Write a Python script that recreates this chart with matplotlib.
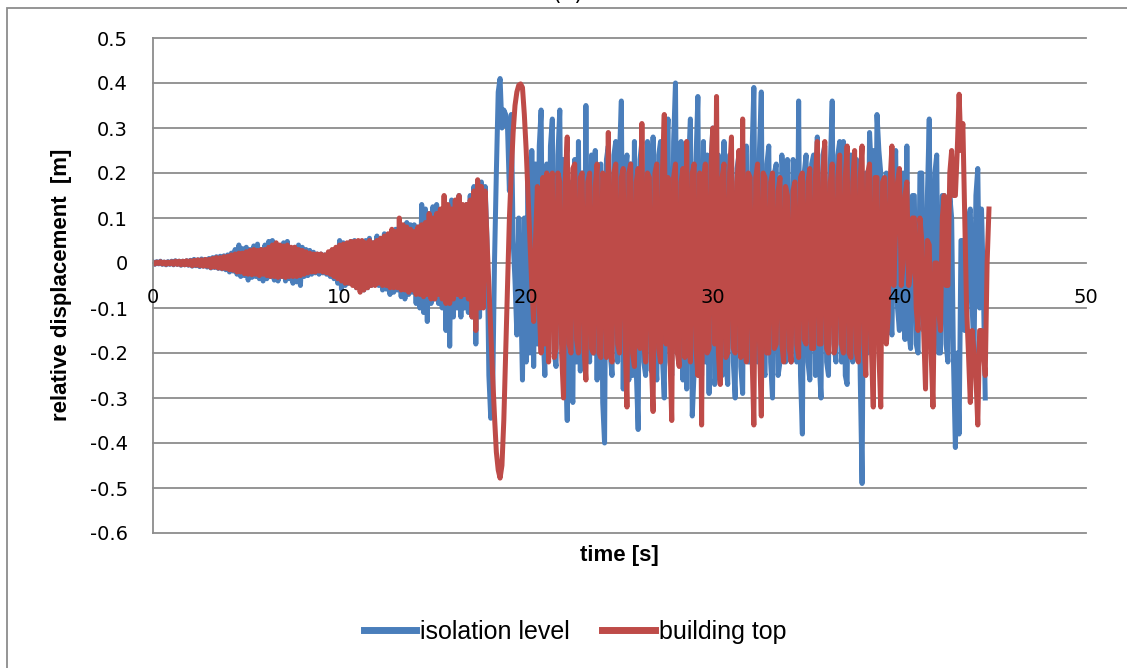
import numpy as np
import matplotlib.pyplot as plt
from matplotlib.patches import Rectangle
from matplotlib.lines import Line2D

# sampling step of the response histories [s]
dt = 0.1

# relative displacement at the isolation level [m], one row per second
isolation_level = [
    .002, -.003, .003, -.002, .004, -.003, .002, -.004, .003, -.003,
    .004, -.004, .005, -.003, .004, -.005, .004, -.004, .005, -.005,
    .006, -.007, .008, -.006, .007, -.008, .009, -.007, .008, -.009,
    .010, -.011, .012, -.010, .014, -.012, .015, -.013, .016, -.015,
    .018, -.020, .022, -.018, .030, -.025, .040, -.030, .032, -.028,
    .035, -.038, .030, -.032, .038, -.030, .042, -.035, .030, -.040,
    .040, -.035, .048, -.030, .050, -.038, .042, -.040, .038, -.030,
    .045, -.040, .048, -.035, .030, -.045, .035, -.042, .040, -.050,
    .035, -.030, .030, -.028, .028, -.025, .024, -.022, .020, -.025,
    .020, -.022, .018, -.025, .022, -.030, .025, -.035, .030, -.045,
    .050, -.058, .045, -.050, .040, -.045, .048, -.040, .050, -.055,
    .045, -.050, .040, -.060, .050, -.055, .055, -.050, .045, -.048,
    .060, -.050, .055, -.060, .065, -.058, .060, -.070, .070, -.065,
    .075, -.060, .080, -.075, .070, -.080, .090, -.070, .085, -.065,
    .085, -.090, .080, -.100, .130, -.110, .120, -.130, .110, -.090,
    .125, -.080, .130, -.090, .110, -.100, .120, -.150, .100, -.185,
    .140, -.120, .130, -.100, .150, -.120, .110, -.100, .130, -.110,
    .150, -.120, .170, -.180, .160, -.120, .180, -.060, .170, .050,
    -.250, -.345, -.300, .000, .200, .380, .410, .300, .340, .330,
    .300, .160, .330, .050, -.040, -.160, .100, -.050, -.260, .100,
    -.220, .180, -.200, .250, -.230, .220, -.180, .260, .340, -.150,
    -.250, .220, -.150, .260, .320, -.200, -.230, .240, .340, -.180,
    .230, -.200, -.350, .180, -.260, -.310, .230, -.220, .270, -.240,
    .200, -.230, .350, -.150, -.220, .240, -.200, .250, -.260, .210,
    .220, -.310, -.400, .230, .260, -.200, -.250, .240, .270, -.220,
    .240, .360, -.280, .200, .240, -.260, .220, -.250, .270, -.240,
    -.370, .230, .270, -.220, -.250, .270, .210, -.240, .280, -.200,
    -.260, .240, .270, -.210, -.300, .240, .320, -.220, -.250, .270,
    .400, -.200, -.180, .270, -.260, .240, -.280, .220, .320, -.340,
    -.240, .230, .370, -.220, -.250, .270, -.220, .240, -.290, .220,
    .300, -.270, -.240, .240, .210, -.250, .270, -.220, -.270, .240,
    .240, -.220, -.300, .210, .240, -.230, -.290, .230, .260, -.220,
    -.220, .240, .390, -.180, -.220, .250, .380, -.230, -.250, .220,
    .260, -.220, -.300, .200, .220, -.250, -.220, .240, .180, -.220,
    .230, -.180, -.220, .230, .200, -.220, .360, -.250, -.380, .200,
    .240, -.220, -.260, .220, .240, -.250, .280, -.220, -.300, .240,
    .260, -.220, -.250, .220, .360, -.180, -.220, .240, .270, -.220,
    .270, -.250, -.270, .220, .240, -.220, -.200, .230, .220, -.250,
    -.490, .150, .200, -.200, .290, .200, .250, -.150, .330, .250,
    .200, -.150, -.140, .200, .100, -.120, -.160, .150, .250, -.100,
    -.150, .150, .200, -.170, .260, -.150, -.190, .150, .150, -.180,
    -.200, .200, .200, -.150, -.150, .150, .320, -.180, -.100, .200,
    .240, -.200, -.200, .150, .150, -.180, -.220, .150, .100, -.220,
    -.410, -.200, -.380, .050, .050, -.150, -.150, .100, .120, -.100,
    -.200, .150, .210, -.100, .120, -.050, -.300,
]

# relative displacement at the building top [m]
building_top = [
    .001, -.002, .002, -.001, .003, -.002, .002, -.003, .002, -.002,
    .003, -.003, .004, -.003, .004, -.004, .004, -.004, .005, -.004,
    .005, -.006, .006, -.005, .007, -.006, .007, -.007, .008, -.007,
    .008, -.010, .010, -.009, .012, -.011, .012, -.012, .014, -.012,
    .015, -.015, .018, -.016, .020, -.020, .022, -.020, .022, -.024,
    .025, -.025, .028, -.026, .030, -.025, .028, -.028, .030, -.025,
    .030, -.028, .035, -.030, .040, -.030, .045, -.032, .040, -.030,
    .038, -.032, .040, -.030, .035, -.030, .035, -.030, .030, -.028,
    .028, -.025, .025, -.022, .022, -.020, .020, -.020, .020, -.018,
    .020, -.020, .018, -.022, .025, -.025, .030, -.030, .035, -.035,
    .040, -.040, .042, -.045, .045, -.045, .048, -.050, .048, -.055,
    .050, -.065, .050, -.060, .045, -.055, .050, -.050, .045, -.050,
    .050, -.045, .055, -.050, .060, -.050, .065, -.055, .075, -.055,
    .070, -.055, .100, -.060, .085, -.060, .080, -.065, .075, -.060,
    .070, -.070, .080, -.070, .085, -.075, .090, -.070, .110, -.080,
    .100, -.080, .110, -.070, .120, -.080, .150, -.090, .130, -.090,
    .120, -.080, .140, -.070, .150, -.075, .130, -.070, .130, -.080,
    .140, -.120, .160, -.150, .185, -.100, .170, -.100, .160, .050,
    -.050, -.150, -.250, -.340, -.420, -.460, -.478, -.450, -.350, -.200,
    -.050, .100, .200, .290, .350, .380, .395, .398, .390, .330,
    .250, .150, .050, -.050, -.130, .050, .170, -.100, -.200, .190,
    -.180, .200, -.220, .170, .200, -.210, -.190, .200, .180, -.200,
    -.300, .190, .280, -.180, -.200, .210, .220, -.170, -.200, .190,
    .200, -.190, -.260, .180, .200, -.190, -.200, .170, .220, -.200,
    -.210, .200, .180, -.210, .290, -.190, -.220, .200, .220, -.180,
    -.200, .190, .210, -.170, -.320, .200, .220, -.200, -.230, .180,
    .210, -.190, .310, -.180, -.220, .200, .190, -.210, -.330, .200,
    .220, -.190, -.220, .200, .330, -.180, .190, -.200, -.350, .190,
    .220, -.200, -.230, .180, .210, -.210, .270, -.170, -.220, .200,
    .220, -.190, -.250, .200, -.360, .180, .220, -.200, -.190, .210,
    .300, -.180, .370, -.200, -.270, .190, .220, -.210, -.200, .200,
    .280, -.190, -.200, .180, .250, -.210, .320, -.180, -.220, .200,
    .190, -.200, -.360, .190, .220, -.170, -.340, .200, .190, -.200,
    -.200, .180, .200, -.190, -.180, .160, .190, -.180, -.220, .170,
    .150, -.190, -.220, .160, .180, -.180, -.210, .190, .200, -.170,
    -.180, .180, .210, -.190, -.190, .190, .270, -.180, -.180, .200,
    .270, -.190, -.200, .180, .220, -.200, -.180, .190, .240, -.180,
    -.200, .190, .260, -.200, -.210, .180, .250, -.200, -.220, .190,
    .260, -.180, -.250, .200, .220, -.190, -.320, .190, .190, -.200,
    -.320, .180, .190, -.180, -.120, .180, .260, -.050, .080, .180,
    .210, -.050, .000, .150, .180, -.050, -.020, .100, .100, -.100,
    -.150, .100, .050, -.150, -.280, .050, .040, -.200, -.320, .000,
    .000, -.100, -.150, .100, .150, -.050, -.050, .200, .250, .150,
    .150, .250, .375, .250, .310, .100, -.100, -.200, -.310, -.150,
    -.200, -.250, -.360, -.150, -.150, -.200, -.250, .000, .120,
]

x_ticks = [0, 10, 20, 30, 40, 50]
y_ticks = [-0.6, -0.5, -0.4, -0.3, -0.2, -0.1, 0, 0.1, 0.2, 0.3, 0.4, 0.5]

blue = '#4a7ebb'
red = '#be4b48'
grid_col = '#8c8c8c'

t_iso = np.arange(len(isolation_level)) * dt
t_top = np.arange(len(building_top)) * dt

W, H = 1127, 668
fig = plt.figure(figsize=(W / 100, H / 100), dpi=100)
ax = fig.add_axes([153 / W, 1 - 533 / H, (1086 - 153) / W, (533 - 38) / H])

# chart-area frame
fig.patches.append(Rectangle((7 / W, -0.05), 1.0, 1.05 - 8 / H,
                             transform=fig.transFigure, fill=False,
                             edgecolor=grid_col, lw=1.3))
fig.text(568 / W, 1.0, '(a)', ha='center', va='baseline', fontsize=16)

for y in y_ticks:
    ax.axhline(y, color=grid_col, lw=1.3, zorder=0.5, clip_on=False)

ax.plot(t_iso, isolation_level, color=blue, lw=3.6, zorder=2)
ax.plot(t_top, building_top, color=red, lw=3.6, zorder=2.1)

ax.set_xlim(0, 50)
ax.set_ylim(-0.6, 0.5)
ax.set_xticks(x_ticks)
ax.set_yticks(y_ticks)
ax.set_yticklabels(['%g' % v for v in y_ticks])
ax.set_axisbelow(False)

for s in ['top', 'right']:
    ax.spines[s].set_visible(False)
ax.spines['bottom'].set_position(('data', 0))
ax.spines['bottom'].set_color('none')
ax.spines['left'].set_color(grid_col)
ax.spines['left'].set_linewidth(1.3)
ax.tick_params(axis='x', length=0, pad=18, labelsize=14)
ax.tick_params(axis='y', length=0, pad=18, labelsize=14)

fig.text(62 / W, 1 - 285 / H, 'relative displacement  [m]', rotation=90,
         ha='center', va='center', fontsize=16, fontweight='bold',
         family='Liberation Sans')
fig.text(619.5 / W, 1 - 556 / H, 'time [s]', ha='center', va='center',
         fontsize=16, fontweight='bold', family='Liberation Sans')

handles = [Line2D([], [], color=blue, lw=5),
           Line2D([], [], color=red, lw=5)]
fig.legend(handles, ['isolation level', 'building top'], loc='center',
           bbox_to_anchor=(575 / W, 1 - 632 / H), ncol=2, frameon=False,
           handlelength=2.1, handletextpad=0.15, columnspacing=1.3,
           prop={'family': 'Liberation Sans', 'size': 18})

fig.savefig('out.png', dpi=100)
